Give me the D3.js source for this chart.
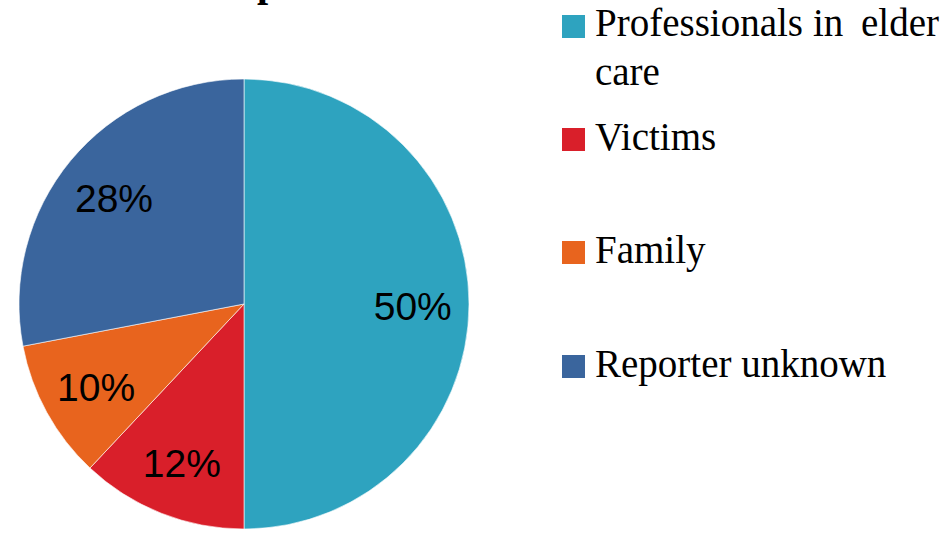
<!DOCTYPE html>
<html>
<head>
<meta charset="utf-8">
<script src="https://cdn.jsdelivr.net/npm/d3@7"></script>
<style>
  html, body { margin: 0; padding: 0; background: #fff; }
  svg { display: block; }
</style>
</head>
<body>
<svg id="chart" width="952" height="533"></svg>
<script>
const categories = ["Professionals in elder care", "Victims", "Family", "Reporter unknown"];
const values = [50, 12, 10, 28];
const colors = ["#2EA3BF", "#D91F2A", "#E8641E", "#3A659D"];

const svg = d3.select("#chart");
const W = 952, H = 533;
const cx = 244, cy = 304, r = 225;

// cut-off title descender fragment
svg.append("text")
  .attr("x", 268).attr("y", -4)
  .attr("text-anchor", "middle")
  .attr("font-family", "Liberation Serif")
  .attr("font-weight", "bold")
  .attr("font-size", 40)
  .attr("fill", "#000")
  .text("p");

const data = categories.map((c, i) => ({ name: c, value: values[i], color: colors[i] }));
const pie = d3.pie().sort(null).value(d => d.value);
const arcs = pie(data);
const arc = d3.arc().innerRadius(0).outerRadius(r);
const labelArc = d3.arc().innerRadius(r * 0.75).outerRadius(r * 0.75);

const g = svg.append("g").attr("transform", `translate(${cx},${cy})`);
g.selectAll("path.slice").data(arcs).enter().append("path")
  .attr("class", "slice")
  .attr("d", arc)
  .attr("fill", d => d.data.color)
  .attr("stroke", "#fff")
  .attr("stroke-width", 0.6);

g.selectAll("text.lbl").data(arcs).enter().append("text")
  .attr("class", "lbl")
  .attr("transform", d => `translate(${labelArc.centroid(d)})`)
  .attr("text-anchor", "middle")
  .attr("dy", "0.4em")
  .attr("font-family", "Liberation Sans, Arial, sans-serif")
  .attr("font-size", 39)
  .attr("fill", "#000")
  .text(d => d.data.value + "%");

// legend
const legendY = [15, 128, 241, 355];
const lg = svg.append("g");
const font = "Liberation Serif, serif";
const fs = 39;
data.forEach((d, i) => {
  lg.append("rect")
    .attr("x", 562).attr("y", legendY[i])
    .attr("width", 23).attr("height", 23)
    .attr("fill", d.color);
});
// first entry wraps over two lines, justified
const first = categories[0].split(" ");
lg.append("text").attr("x", 595).attr("y", 36).attr("font-family", font).attr("font-size", fs).text(first[0]);
lg.append("text").attr("x", 813).attr("y", 36).attr("font-family", font).attr("font-size", fs).text(first[1]);
lg.append("text").attr("x", 939).attr("y", 36).attr("text-anchor", "end").attr("font-family", font).attr("font-size", fs).text(first[2]);
lg.append("text").attr("x", 595).attr("y", 85).attr("font-family", font).attr("font-size", fs).text(first[3]);
const baselines = [null, 150, 263, 377];
for (let i = 1; i < categories.length; i++) {
  lg.append("text").attr("x", 595).attr("y", baselines[i])
    .attr("font-family", font).attr("font-size", fs).attr("fill", "#000")
    .text(categories[i]);
}
</script>
</body>
</html>
